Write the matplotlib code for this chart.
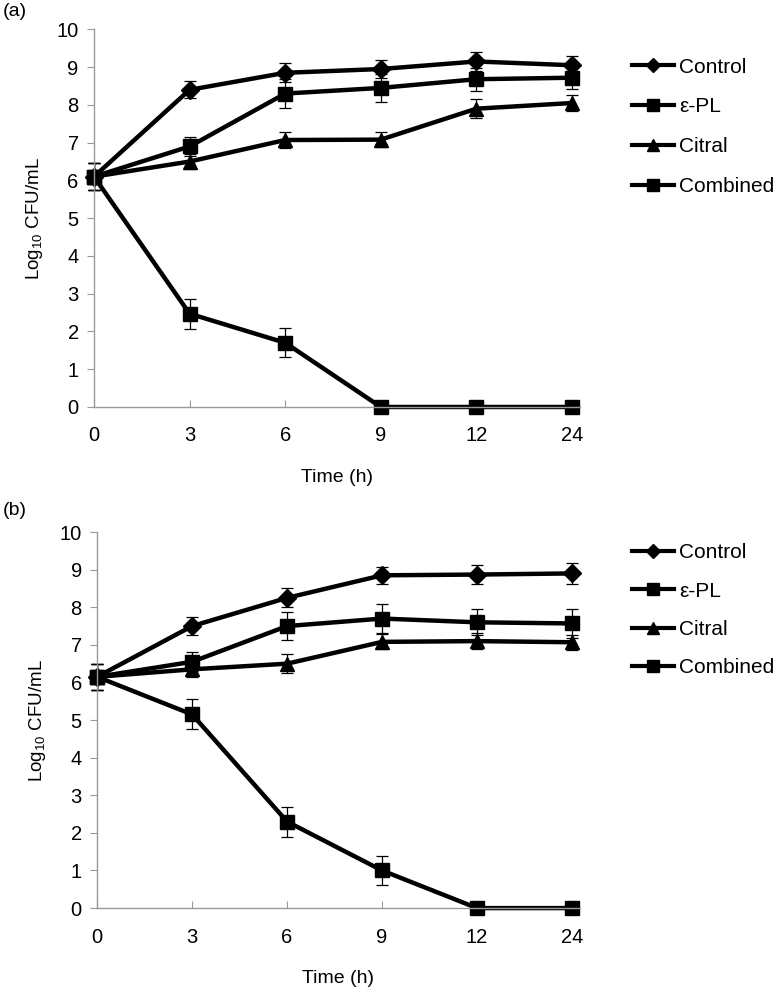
import numpy as np
import matplotlib
matplotlib.use("Agg")
import matplotlib.pyplot as plt
from matplotlib.lines import Line2D

plt.rcParams.update({
    'font.family': ['Liberation Sans', 'DejaVu Sans'],
    'mathtext.default': 'regular',
    'font.size': 14,
})

# x categories (hours)
times = ["0", "3", "6", "9", "12", "24"]
labels = ["Control", "\u03b5-PL", "Citral", "Combined"]
markers = ["D", "s", "^", "s"]
msizes = [9, 10.5, 10.5, 10.5]

# panel (a)
a_control = [6.1, 8.4, 8.85, 8.95, 9.15, 9.05]
a_epl = [6.1, 6.9, 8.3, 8.45, 8.68, 8.72]
a_citral = [6.1, 6.5, 7.07, 7.08, 7.9, 8.05]
a_comb = [6.1, 2.47, 1.7, 0, 0, 0]
a_control_err = [0.35, 0.22, 0.25, 0.25, 0.25, 0.25]
a_epl_err = [0.35, 0.25, 0.38, 0.38, 0.3, 0.3]
a_citral_err = [0.35, 0.2, 0.22, 0.2, 0.25, 0.22]
a_comb_err = [0.35, 0.4, 0.38, 0, 0, 0]

# panel (b)
b_control = [6.15, 7.5, 8.25, 8.85, 8.87, 8.9]
b_epl = [6.15, 6.55, 7.5, 7.7, 7.6, 7.57]
b_citral = [6.15, 6.35, 6.5, 7.08, 7.1, 7.07]
b_comb = [6.15, 5.15, 2.3, 1.0, 0, 0]
b_control_err = [0.35, 0.25, 0.25, 0.22, 0.25, 0.28]
b_epl_err = [0.35, 0.25, 0.38, 0.38, 0.35, 0.38]
b_citral_err = [0.35, 0.2, 0.25, 0.2, 0.22, 0.2]
b_comb_err = [0.35, 0.4, 0.4, 0.38, 0, 0]

fig = plt.figure(figsize=(7.77, 9.99), dpi=100)
ax_a = fig.add_axes([0.121, 0.5926, 0.625, 0.378])
ax_b = fig.add_axes([0.125, 0.091, 0.621, 0.3764])

panels = [
    (ax_a, [a_control, a_epl, a_citral, a_comb],
     [a_control_err, a_epl_err, a_citral_err, a_comb_err], "(a)", 0.988,
     0.975, 1.0),
    (ax_b, [b_control, b_epl, b_citral, b_comb],
     [b_control_err, b_epl_err, b_citral_err, b_comb_err], "(b)", 0.489,
     1.02, 0.93),
]

x = np.arange(len(times))
for ax, series, errs, tag, ty, ly, lsp in panels:
    for vals, err, m, ms in zip(series, errs, markers, msizes):
        ax.errorbar(x, vals, yerr=err, color="black", lw=3.2, marker=m, ms=ms,
                    ecolor="black", elinewidth=0.9, capsize=4, capthick=0.9)
    ax.set_xlim(0, 5.08)
    ax.set_ylim(0, 10)
    ax.set_xticks(x, times)
    ax.set_yticks(range(0, 11))
    for s in ["top", "right"]:
        ax.spines[s].set_visible(False)
    for s in ["left", "bottom"]:
        ax.spines[s].set_color("#999999")
        ax.spines[s].set_linewidth(1.0)
    ax.tick_params(axis="y", direction="out", length=5, color="#999999",
                   labelsize=14.5, pad=6)
    ax.tick_params(axis="x", direction="in", length=5, color="#999999",
                   labelsize=14.5, pad=14)
    ax.set_xlabel("Time (h)", fontsize=14, labelpad=17)
    ax.set_ylabel("Log$_{10}$ CFU/mL", fontsize=13.5, labelpad=8)
    ax.patch.set_visible(False)
    for ln in ax.get_lines():
        ln.set_clip_on(False)
    handles = [Line2D([], [], color="black", lw=3, marker=m, ms=ms * 0.8)
               for m, ms in zip(markers, msizes)]
    ax.legend(handles, labels, loc="upper left", bbox_to_anchor=(1.07, ly),
              frameon=False, fontsize=15, handlelength=2.0, handletextpad=0.25,
              labelspacing=lsp)
    fig.text(0.003, ty, tag, fontsize=14, va="center", ha="left")

fig.savefig("out.png", dpi=100)
